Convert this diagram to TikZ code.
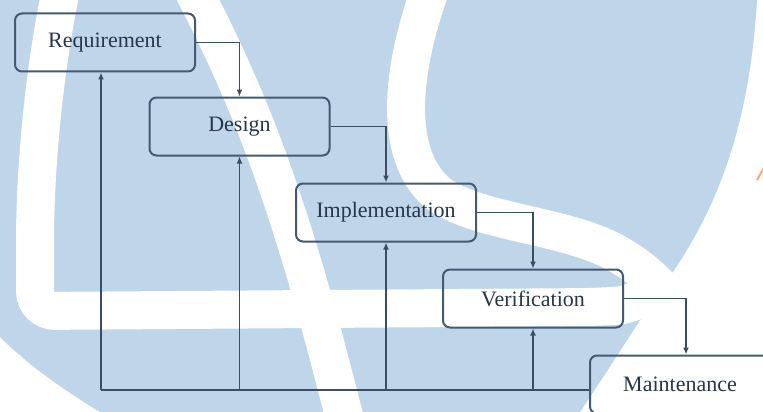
\documentclass[tikz,border=0pt]{standalone}
\usepackage{fontspec}
\setmainfont{Liberation Serif}
\usetikzlibrary{arrows.meta}

\definecolor{logoblue}{HTML}{BFD5EA}
\definecolor{edgeblue}{HTML}{435A73}
\definecolor{lineblue}{HTML}{3A4D63}
\definecolor{inkblue}{HTML}{27364A}
\definecolor{logoorange}{HTML}{F2A878}

\begin{document}
\begin{tikzpicture}[x=1pt,y=-1pt,
  phase/.style={draw=edgeblue,line width=2pt,rounded corners=7pt,minimum width=180pt,
    minimum height=58pt,inner sep=0pt,text=inkblue,font=\fontsize{22}{26}\selectfont},
  flow/.style={draw=lineblue,line width=1.6pt,-{Latex[length=7pt,width=6pt]}},
  band/.style={draw=white,line width=38pt}]
\useasboundingbox (0,0) rectangle (763,412);
\clip (0,0) rectangle (763,412);
\fill[white] (0,0) rectangle (763,412);
% watermark in the background
\fill[logoblue] (0,0) -- (757,0) .. controls (750,120) and (720,210) .. (660,290)
  .. controls (630,335) and (605,375) .. (580,412) -- (100,412)
  .. controls (60,388) and (25,362) .. (0,337) -- cycle;
\draw[band,rounded corners=20pt] (61,-10) .. controls (42,80) and (35,180) .. (35,260)
  -- (35,311) -- (600,307) .. controls (625,305) and (640,300) .. (655,292);
\draw[band] (430,-10) .. controls (398,80) and (395,160) .. (440,195)
  .. controls (480,222) and (560,225) .. (610,250)
  .. controls (640,265) and (660,285) .. (680,310);
\draw[band] (193,-10) .. controls (250,100) and (290,200) .. (345,420);
\draw[logoorange,line width=2pt] (757,180) -- (765,166);
% the phases
\node[phase] (req) at (105,42.5) {Requirement};
\node[phase] (des) at (239.5,126.5) {Design};
\node[phase] (imp) at (386,212.5) {Implementation};
\node[phase] (ver) at (533,298.5) {Verification};
\node[phase] (mnt) at (680,384.5) {Maintenance};
\draw[flow] (req.east) -| (des.north);
\draw[flow] (des.east) -| (imp.north);
\draw[flow] (imp.east) -| (ver.north);
\draw[flow] (ver.east) -| ([xshift=6pt]mnt.north);
% feedback to every phase
\coordinate (base) at (101,390);
\draw[draw=lineblue,line width=1.6pt] (mnt.west |- base) -- (base);
\draw[flow] (base) -- (base |- req.south);
\foreach \ph in {des,imp,ver}
  {\draw[flow] (\ph.south |- base) -- (\ph.south);}
\end{tikzpicture}
\end{document}
